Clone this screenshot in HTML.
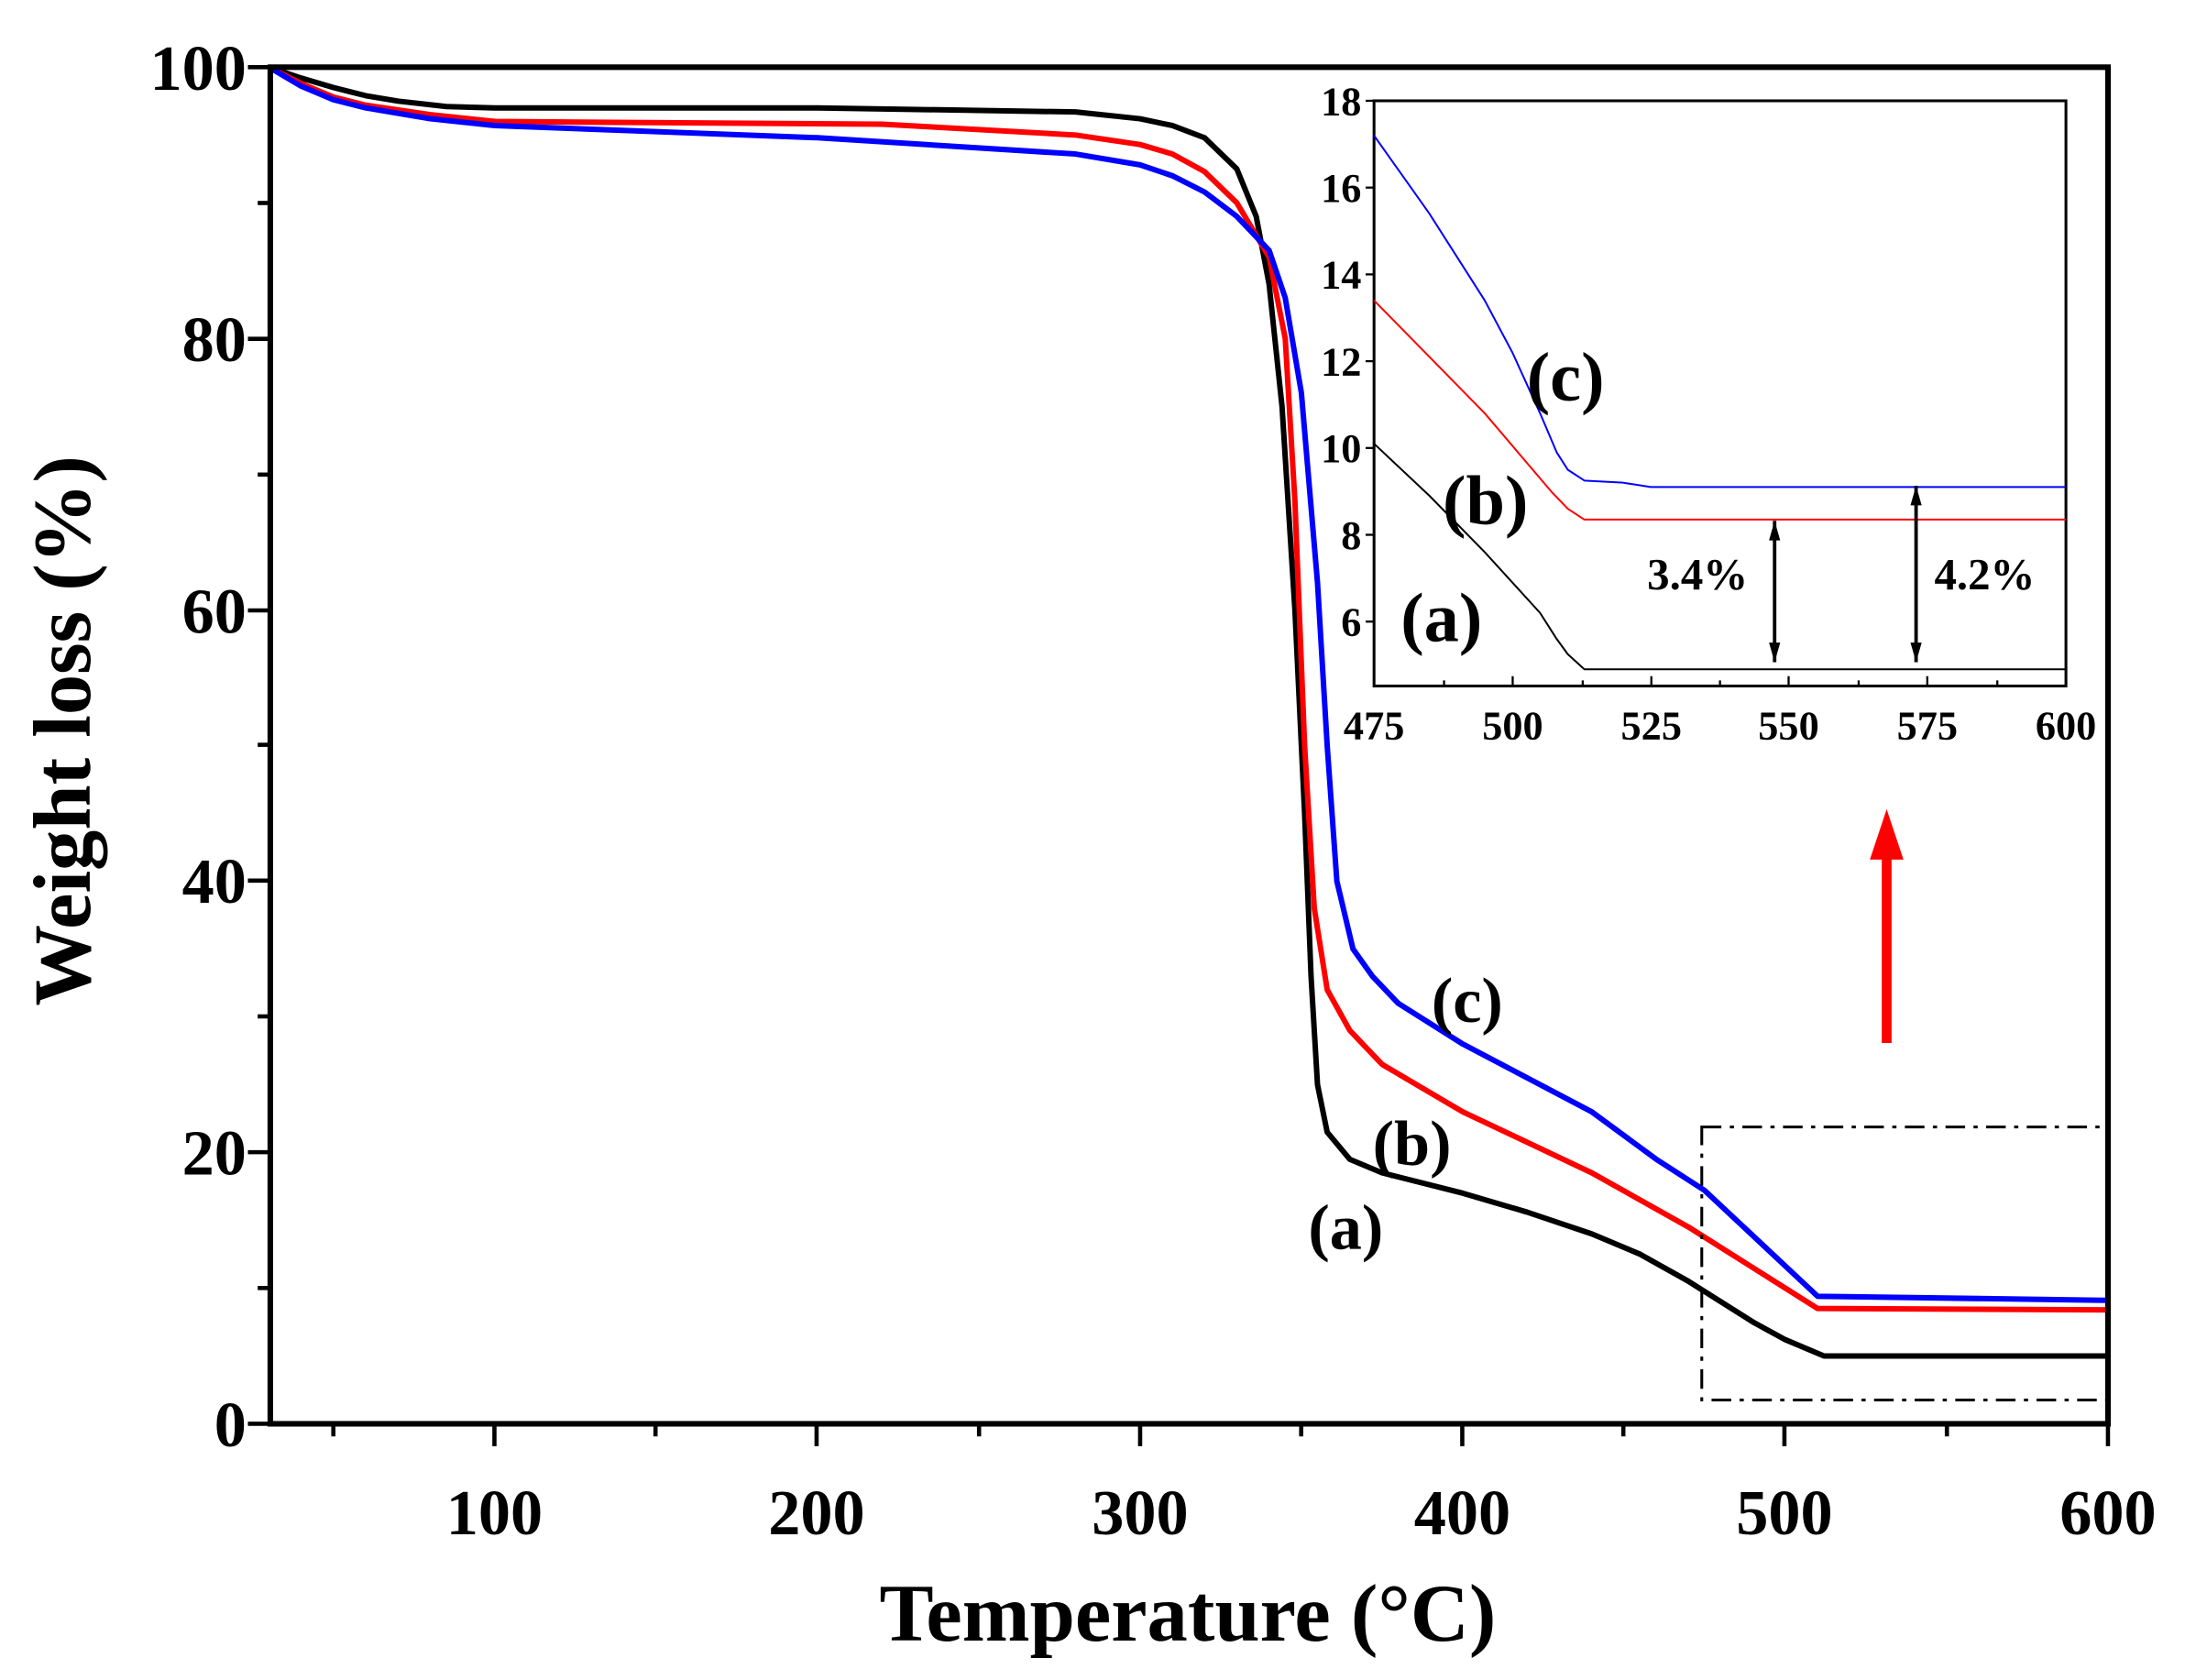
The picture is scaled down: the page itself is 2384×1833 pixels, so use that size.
<!DOCTYPE html>
<html><head><meta charset="utf-8"><style>html,body{margin:0;padding:0;background:#fff}svg{display:block}</style></head>
<body>
<svg width="2384" height="1833" viewBox="0 0 1560 1200" preserveAspectRatio="none" xmlns="http://www.w3.org/2000/svg" font-family="'Liberation Serif',serif" font-weight="bold">
<rect width="1560" height="1200" fill="#fff"/>
<g transform="matrix(2.3035 0 0 -9.69 122.9 1017)" fill="none" stroke-linejoin="round">
<polyline vector-effect="non-scaling-stroke" stroke="#000" stroke-width="6" points="30,100 40,99.2 50,98.5 60,97.9 70,97.5 85,97.1 100,97 200,97 280,96.7 300,96.2 310,95.7 320,94.8 330,92.5 336,89 340,84 344,75 348,60 351,45 353,33 355,25 358,21.5 365,19.5 375,18.5 400,17 420,15.6 440,14 455,12.5 470,10.5 490,7.5 500,6.2 512,5 600,5"/>
<polyline vector-effect="non-scaling-stroke" stroke="#f00" stroke-width="6" points="30,100 40,98.8 50,97.8 60,97.2 80,96.5 100,96 220,95.8 280,95 300,94.3 310,93.6 320,92.3 330,90 340,86 345,80 348,68 351,50 354,38 358,32 365,29 375,26.5 400,23 440,18.5 470,14.5 490,11.5 510,8.5 600,8.4"/>
<polyline vector-effect="non-scaling-stroke" stroke="#00f" stroke-width="6" points="30,100 40,98.6 50,97.6 60,97 80,96.2 100,95.7 200,94.8 280,93.6 300,92.8 310,92 320,90.8 330,89 340,86.5 345,83 350,76 355,62 358,50 361,40 366,35 372,33 380,31 400,28 440,23 460,19.5 475,17.2 510,9.4 600,9.1"/>
</g>
<rect x="1215" y="805" width="290" height="195" fill="none" stroke="#000" stroke-width="2" stroke-dasharray="14,6,3,6"/>
<rect x="193" y="48" width="1312" height="969" fill="none" stroke="#000" stroke-width="4"/>
<g stroke="#000" stroke-width="3">
<line x1="353" y1="1017" x2="353" y2="1033"/><line x1="583" y1="1017" x2="583" y2="1033"/><line x1="814" y1="1017" x2="814" y2="1033"/><line x1="1044" y1="1017" x2="1044" y2="1033"/><line x1="1274" y1="1017" x2="1274" y2="1033"/><line x1="1505" y1="1017" x2="1505" y2="1033"/>
<line x1="238" y1="1017" x2="238" y2="1026"/><line x1="468" y1="1017" x2="468" y2="1026"/><line x1="699" y1="1017" x2="699" y2="1026"/><line x1="929" y1="1017" x2="929" y2="1026"/><line x1="1159" y1="1017" x2="1159" y2="1026"/><line x1="1390" y1="1017" x2="1390" y2="1026"/>
<line x1="177" y1="48" x2="193" y2="48"/><line x1="177" y1="242" x2="193" y2="242"/><line x1="177" y1="436" x2="193" y2="436"/><line x1="177" y1="629" x2="193" y2="629"/><line x1="177" y1="823" x2="193" y2="823"/><line x1="177" y1="1017" x2="193" y2="1017"/>
<line x1="184" y1="145" x2="193" y2="145"/><line x1="184" y1="339" x2="193" y2="339"/><line x1="184" y1="532" x2="193" y2="532"/><line x1="184" y1="726" x2="193" y2="726"/><line x1="184" y1="920" x2="193" y2="920"/>
</g>
<g font-size="46" text-anchor="end">
<text x="176" y="64">100</text><text x="176" y="258">80</text><text x="176" y="452">60</text><text x="176" y="645">40</text><text x="176" y="839">20</text><text x="176" y="1033">0</text>
</g>
<g font-size="46" text-anchor="middle">
<text x="353" y="1096">100</text><text x="583" y="1096">200</text><text x="814" y="1096">300</text><text x="1044" y="1096">400</text><text x="1274" y="1096">500</text><text x="1505" y="1096">600</text>
</g>
<text x="848" y="1172" font-size="58" text-anchor="middle">Temperature (°C)</text>
<text transform="translate(64,522) rotate(-90)" font-size="58" text-anchor="middle">Weight loss (%)</text>
<g font-size="46">
<text x="1022" y="730">(c)</text><text x="980" y="832">(b)</text><text x="934" y="892">(a)</text>
</g>
<line x1="1347" y1="745" x2="1347" y2="610" stroke="#f00" stroke-width="7"/>
<polygon points="1347,578 1335,614 1359,614" fill="#f00"/>
<rect x="981" y="72" width="494" height="418" fill="#fff" stroke="#000" stroke-width="2"/>
<g transform="matrix(3.952 0 0 -31 -896.2 630)" fill="none" stroke-linejoin="round">
<polyline vector-effect="non-scaling-stroke" stroke="#000" stroke-width="2" points="475,10.1 485,8.9 495,7.6 505,6.2 508,5.6 510,5.25 513,4.9 600,4.9"/>
<polyline vector-effect="non-scaling-stroke" stroke="#f00" stroke-width="2" points="475,13.4 485,12.1 495,10.8 503,9.6 507,9 510,8.6 513,8.35 600,8.35"/>
<polyline vector-effect="non-scaling-stroke" stroke="#00f" stroke-width="2" points="475,17.2 480,16.3 485,15.4 490,14.4 495,13.4 500,12.2 505,10.8 508,9.9 510,9.5 513,9.25 520,9.2 525,9.1 600,9.1"/>
</g>
<g stroke="#000" stroke-width="2.5">
<line x1="1267" y1="372" x2="1267" y2="473"/><line x1="1368" y1="347" x2="1368" y2="473"/>
</g>
<g fill="#000">
<polygon points="1267,372 1263,386 1271,386"/><polygon points="1267,473 1263,459 1271,459"/>
<polygon points="1368,347 1364,361 1372,361"/><polygon points="1368,473 1364,459 1372,459"/>
</g>
<g stroke="#000" stroke-width="1.5">
<line x1="1080" y1="490" x2="1080" y2="483"/><line x1="1179" y1="490" x2="1179" y2="483"/><line x1="1277" y1="490" x2="1277" y2="483"/><line x1="1376" y1="490" x2="1376" y2="483"/>
<line x1="1031" y1="490" x2="1031" y2="486"/><line x1="1130" y1="490" x2="1130" y2="486"/><line x1="1228" y1="490" x2="1228" y2="486"/><line x1="1327" y1="490" x2="1327" y2="486"/><line x1="1426" y1="490" x2="1426" y2="486"/>
<line x1="975" y1="72" x2="981" y2="72"/><line x1="975" y1="134" x2="981" y2="134"/><line x1="975" y1="196" x2="981" y2="196"/><line x1="975" y1="258" x2="981" y2="258"/><line x1="975" y1="320" x2="981" y2="320"/><line x1="975" y1="382" x2="981" y2="382"/><line x1="975" y1="444" x2="981" y2="444"/>
</g>
<g font-size="29" text-anchor="end">
<text x="972" y="82">18</text><text x="972" y="144">16</text><text x="972" y="206">14</text><text x="972" y="268">12</text><text x="972" y="330">10</text><text x="972" y="392">8</text><text x="972" y="454">6</text>
</g>
<g font-size="29" text-anchor="middle">
<text x="981" y="528">475</text><text x="1080" y="528">500</text><text x="1179" y="528">525</text><text x="1277" y="528">550</text><text x="1376" y="528">575</text><text x="1475" y="528">600</text>
</g>
<g font-size="50">
<text x="1090" y="286">(c)</text><text x="1030" y="374">(b)</text><text x="1000" y="458">(a)</text>
</g>
<g font-size="32">
<text x="1176" y="421">3.4%</text><text x="1381" y="421">4.2%</text>
</g>
</svg>
</body></html>
